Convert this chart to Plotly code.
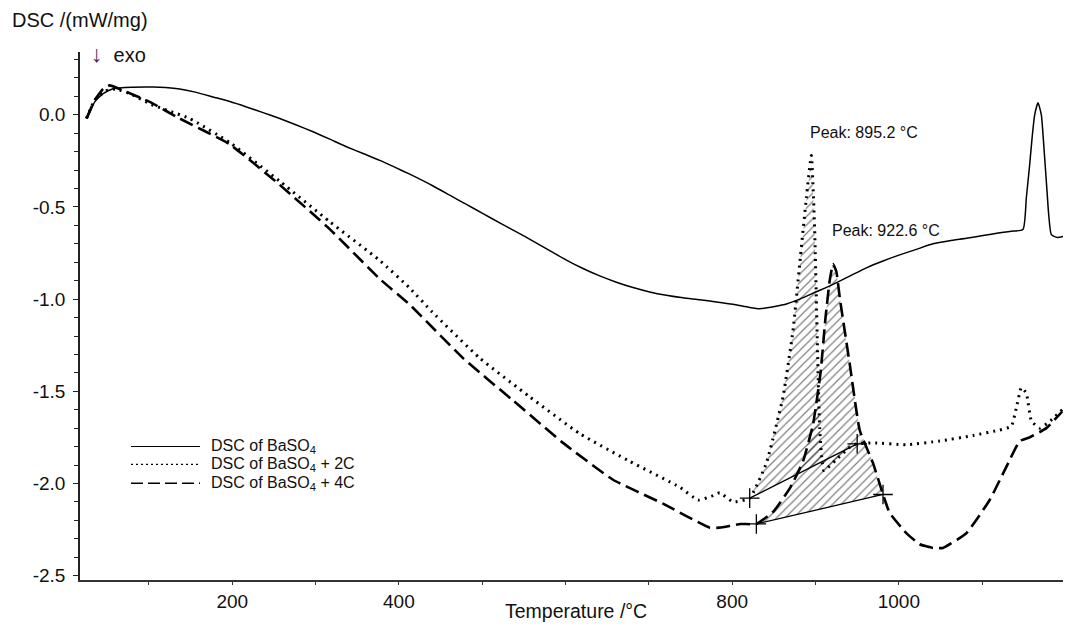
import plotly.graph_objects as go

# ---------------- data ----------------
t_baso4 = [26, 35, 45, 57, 80, 105, 120, 137, 157, 177, 197, 217, 237, 257, 277, 297, 317, 337, 357, 377, 395,
           413, 441, 461, 481, 501, 521, 541, 561, 581, 601, 621, 641, 661, 681, 701, 721, 741, 761, 781, 801, 821,
           833, 851, 866, 881, 901, 921, 941, 961, 981, 1001, 1021, 1041, 1061, 1081, 1101, 1121, 1135, 1149, 1153,
           1157, 1160, 1163, 1167, 1171, 1174, 1177, 1180, 1183, 1190, 1197]
y_baso4 = [-0.02, 0.07, 0.115, 0.142, 0.150, 0.151, 0.148, 0.140, 0.122, 0.097, 0.072, 0.043, 0.012, -0.02, -0.055,
           -0.092, -0.132, -0.173, -0.21, -0.247, -0.284, -0.322, -0.386, -0.436, -0.486, -0.536, -0.586, -0.635,
           -0.685, -0.737, -0.788, -0.834, -0.874, -0.908, -0.937, -0.961, -0.979, -0.993, -1.003, -1.015, -1.028,
           -1.045, -1.052, -1.04, -1.025, -1.0, -0.96, -0.92, -0.875, -0.83, -0.793, -0.76, -0.73, -0.70, -0.683, -0.67,
           -0.655, -0.64, -0.632, -0.622, -0.45, -0.27, -0.12, 0.0, 0.066, 0.0, -0.17, -0.36, -0.55, -0.65, -0.665, -0.66]

t_2c = [25, 35, 48, 60, 80, 101, 125, 149, 197, 257, 317, 377, 413, 440, 497, 557, 617, 677, 737, 759, 775, 785,
        801, 821, 841, 861, 873, 881, 889, 895, 899, 902, 905, 910, 925, 945, 969, 1009, 1049, 1089, 1121, 1135,
        1141, 1147, 1153, 1159, 1169, 1182, 1196]
y_2c = [-0.02, 0.08, 0.13, 0.14, 0.11, 0.06, 0.02, -0.02, -0.15, -0.36, -0.58, -0.79, -0.94, -1.07, -1.32, -1.53,
        -1.73, -1.88, -2.02, -2.09, -2.07, -2.05, -2.10, -2.08, -1.89, -1.53, -1.17, -0.81, -0.45, -0.22, -0.63,
        -1.2, -1.7, -1.93, -1.87, -1.79, -1.78, -1.79, -1.77, -1.74, -1.71, -1.69, -1.59, -1.48, -1.51, -1.66, -1.70,
        -1.66, -1.60]

t_4c = [25, 35, 45, 53, 65, 101, 137, 197, 257, 317, 377, 413, 477, 537, 597, 657, 717, 773, 785, 810, 829, 850,
        870, 885, 897, 906, 912, 917, 921, 925, 929, 941, 953, 969, 981, 989, 1009, 1025, 1041, 1053, 1081, 1109,
        1129, 1145, 1157, 1177, 1196]
y_4c = [-0.02, 0.08, 0.14, 0.16, 0.14, 0.07, -0.02, -0.16, -0.38, -0.62, -0.89, -1.03, -1.32, -1.55, -1.78, -1.98,
        -2.11, -2.24, -2.24, -2.22, -2.22, -2.15, -2.02, -1.88, -1.68, -1.4, -1.1, -0.9, -0.81, -0.85, -0.99, -1.35,
        -1.71, -1.89, -2.06, -2.16, -2.27, -2.33, -2.35, -2.35, -2.27, -2.09, -1.91, -1.77, -1.75, -1.70, -1.61]

# integration limits (baseline end points)
base_2c_t = [821, 950]
base_2c_y = [-2.08, -1.785]
base_4c_t = [829, 981]
base_4c_y = [-2.22, -2.06]

peak_labels = ["Peak: 895.2 °C", "Peak: 922.6 °C"]
peak_t = [895.2, 922.6]
peak_label_y = [-0.097, -0.627]

legend_names = ["DSC of BaSO<sub>4</sub>", "DSC of BaSO<sub>4</sub> + 2C", "DSC of BaSO<sub>4</sub> + 4C"]

x_tickvals = [200, 400, 600, 800, 1000]
x_ticktext = ["200", "400", "", "800", "1000"]   # the axis title sits where "600" would be
y_tickvals = [0.0, -0.5, -1.0, -1.5, -2.0, -2.5]
y_ticktext = ["0.0", "-0.5", "-1.0", "-1.5", "-2.0", "-2.5"]

x_range = [17.3, 1197]
y_range = [-2.524, 0.341]

FONT = "Liberation Sans, Arial"

# ---------------- figure ----------------
fig = go.Figure()


def area_polygon(ts, ys, b_t, b_y):
    px, py = [], []
    for t, y in zip(ts, ys):
        if b_t[0] <= t <= b_t[1]:
            px.append(t)
            py.append(y)
    px = [b_t[0]] + px + [b_t[1], b_t[0]]
    py = [b_y[0]] + py + [b_y[1], b_y[0]]
    return px, py


for ts, ys, bt, by in [(t_2c, y_2c, base_2c_t, base_2c_y), (t_4c, y_4c, base_4c_t, base_4c_y)]:
    ax_, ay_ = area_polygon(ts, ys, bt, by)
    fig.add_trace(go.Scatter(
        x=ax_, y=ay_, mode="lines", fill="toself",
        fillcolor="rgba(0,0,0,0)",
        fillpattern=dict(shape="/", size=6, solidity=0.2, fgcolor="#000", bgcolor="rgba(255,255,255,0)"),
        line=dict(width=0), showlegend=False, hoverinfo="skip"))
    fig.add_trace(go.Scatter(
        x=bt, y=by, mode="lines+markers",
        line=dict(color="black", width=1.3),
        marker=dict(symbol="cross-thin", size=14, line=dict(color="black", width=1.3)),
        showlegend=False, hoverinfo="skip"))

fig.add_trace(go.Scatter(x=t_baso4, y=y_baso4, mode="lines", name=legend_names[0],
                         line=dict(color="black", width=1.5, shape="spline", smoothing=0.5), showlegend=False))
fig.add_trace(go.Scatter(x=t_2c, y=y_2c, mode="lines", name=legend_names[1],
                         line=dict(color="black", width=3, dash="2px,5px", shape="spline", smoothing=0.4),
                         showlegend=False))
fig.add_trace(go.Scatter(x=t_4c, y=y_4c, mode="lines", name=legend_names[2],
                         line=dict(color="black", width=2.6, dash="14px,6px", shape="spline", smoothing=0.4),
                         showlegend=False))

# manual legend (paper coordinates)
leg_y_px = [446, 464, 483]
leg_dash = ["solid", "2px,3px", "12px,5px"]
leg_w = [1.2, 1.2, 1.5]
for name, ypx, d, w in zip(legend_names, leg_y_px, leg_dash, leg_w):
    yp = (580 - ypx) / 530
    fig.add_shape(type="line", xref="paper", yref="paper",
                  x0=(131 - 80) / 983, x1=(200 - 80) / 983, y0=yp, y1=yp,
                  line=dict(color="black", width=w, dash=d))
    fig.add_annotation(xref="paper", yref="paper", x=(209 - 80) / 983, y=yp, text=name,
                       showarrow=False, xanchor="left", yanchor="middle",
                       font=dict(family=FONT, size=16, color="#111"))

for lab, pt, py in zip(peak_labels, peak_t, peak_label_y):
    fig.add_annotation(x=pt, y=py, text=lab, showarrow=False, xanchor="left", yanchor="middle",
                       xshift=-4, font=dict(family=FONT, size=16, color="#111"))

fig.add_annotation(xref="paper", yref="paper", x=(10 - 80) / 983, y=(580 - 18) / 530, text="DSC /(mW/mg)",
                   showarrow=False, xanchor="left", yanchor="middle",
                   font=dict(family=FONT, size=20, color="#111"))
fig.add_annotation(xref="paper", yref="paper", x=(89 - 80) / 983, y=(580 - 52) / 530,
                   text="<span style='color:#4a2a5a;font-size:23px'>↓</span>  exo",
                   showarrow=False, xanchor="left", yanchor="middle",
                   font=dict(family=FONT, size=20, color="#111"))
fig.add_annotation(xref="paper", yref="paper", x=(576 - 80) / 983, y=(580 - 611) / 530,
                   text="Temperature /°C", showarrow=False, xanchor="center", yanchor="middle",
                   font=dict(family=FONT, size=19.5, color="#111"))

fig.update_layout(
    width=1065, height=632,
    margin=dict(l=80, r=2, t=52, b=52, autoexpand=False),
    paper_bgcolor="white", plot_bgcolor="white",
    font=dict(family=FONT, size=19, color="#111"),
    xaxis=dict(range=x_range, showgrid=False, zeroline=False, showline=True, linecolor="#333", linewidth=1.5,
               ticks="outside", ticklen=3, tickcolor="#333", tickvals=x_tickvals, ticktext=x_ticktext,
               minor=dict(tickvals=[100, 300, 500, 700, 900, 1100], ticks="outside", ticklen=3, tickcolor="#333"),
               tickfont=dict(size=19)),
    yaxis=dict(range=y_range, showgrid=False, zeroline=False, showline=True, linecolor="#222", linewidth=1.5,
               ticks="outside", ticklen=5, tickcolor="#222", tickvals=y_tickvals, ticktext=y_ticktext,
               ticklabelstandoff=4,
               minor=dict(dtick=0.1, ticks="outside", ticklen=4, tickcolor="#222"),
               tickfont=dict(size=19)),
    showlegend=False,
)

fig.write_html("out.html", config={"displayModeBar": False},
               post_script="document.body.style.margin='0';document.body.style.overflow='hidden';")
